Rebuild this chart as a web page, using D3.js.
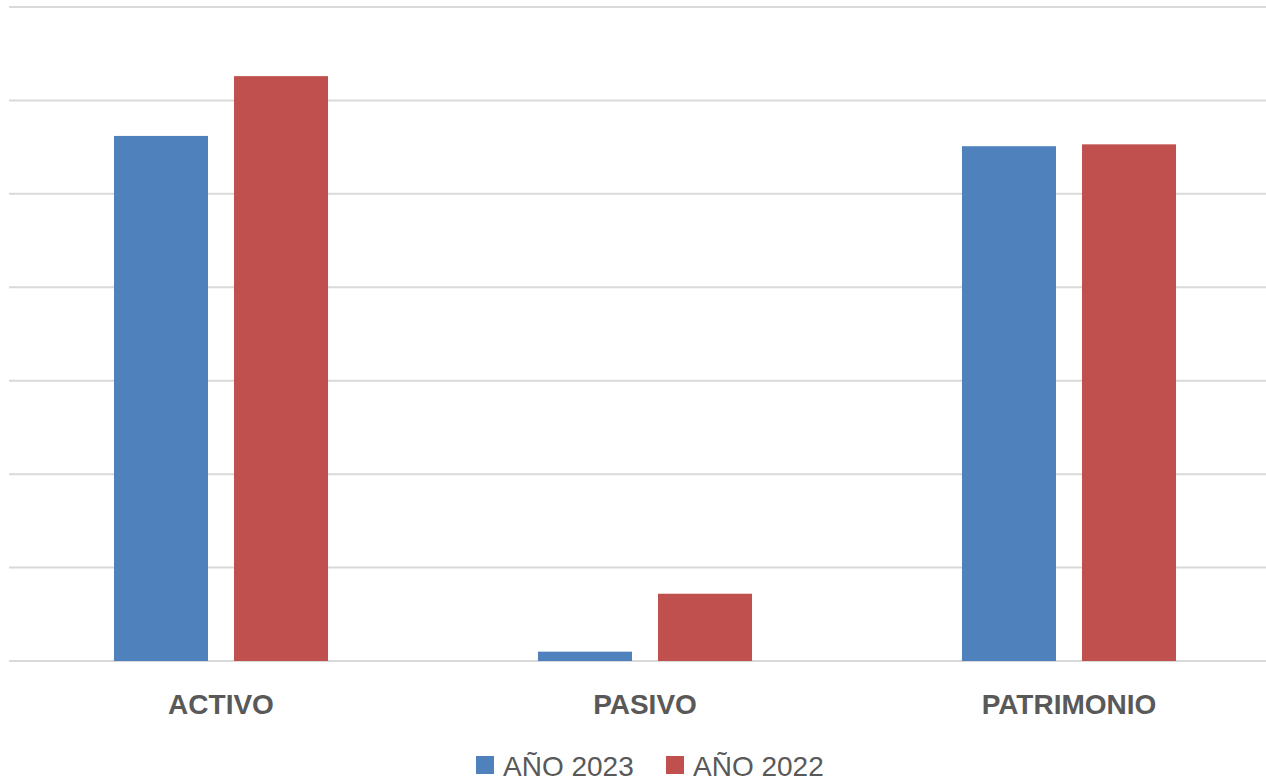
<!DOCTYPE html>
<html>
<head>
<meta charset="utf-8">
<script src="https://cdn.jsdelivr.net/npm/d3@7"></script>
<style>
  html, body { margin: 0; padding: 0; background: #fff; }
  svg { display: block; }
</style>
</head>
<body>
<div id="chart"></div>
<script>
// chart data
const categories = ['ACTIVO', 'PASIVO', 'PATRIMONIO'];
const seriesNames = ['AÑO 2023', 'AÑO 2022'];
const values2023 = [5.62, 0.10, 5.51];
const values2022 = [6.26, 0.72, 5.53];
const gridTicks = [0, 1, 2, 3, 4, 5, 6, 7];
const colors = ['#4F81BD', '#C0504D'];

const width = 1266, height = 781;
const margin = { top: 7, left: 9, bottom: 120 };
const plotRight = 1281; // plot area runs past the cropped right edge

const svg = d3.select('#chart').append('svg')
  .attr('width', width)
  .attr('height', height);

const y = d3.scaleLinear().domain([0, 7]).range([height - margin.bottom, margin.top]);
const x0 = d3.scaleBand().domain(categories).range([margin.left, plotRight]);
const bw = x0.bandwidth();
const x1 = d3.scaleBand().domain(seriesNames)
  .range([bw * 0.2476, bw * 0.7524])
  .paddingInner(0.2167);

// gridlines
svg.append('g')
  .selectAll('line')
  .data(gridTicks)
  .join('line')
  .attr('x1', margin.left)
  .attr('x2', width)
  .attr('y1', d => y(d))
  .attr('y2', d => y(d))
  .attr('stroke', '#D9D9D9')
  .attr('stroke-width', 2);

const rows = categories.map((c, i) => ({ cat: c, vals: [values2023[i], values2022[i]] }));

const groups = svg.append('g')
  .selectAll('g')
  .data(rows)
  .join('g')
  .attr('transform', d => `translate(${x0(d.cat)},0)`);

groups.selectAll('rect')
  .data(d => d.vals.map((v, j) => ({ name: seriesNames[j], v, j })))
  .join('rect')
  .attr('x', d => x1(d.name))
  .attr('width', x1.bandwidth())
  .attr('y', d => y(d.v))
  .attr('height', d => y(0) - y(d.v))
  .attr('fill', d => colors[d.j]);

// category labels
svg.append('g')
  .selectAll('text')
  .data(categories)
  .join('text')
  .attr('x', d => x0(d) + bw / 2)
  .attr('y', 714)
  .attr('text-anchor', 'middle')
  .attr('font-family', '"Liberation Sans", Arial, sans-serif')
  .attr('font-weight', 'bold')
  .attr('font-size', 28)
  .attr('fill', '#595959')
  .text(d => d);

// legend
const legendX = [476, 666];
const legend = svg.append('g')
  .selectAll('g')
  .data(seriesNames)
  .join('g')
  .attr('transform', (d, i) => `translate(${legendX[i]},756)`);

legend.append('rect')
  .attr('width', 18)
  .attr('height', 18)
  .attr('fill', (d, i) => colors[i]);

legend.append('text')
  .attr('x', 27)
  .attr('y', 20)
  .attr('font-family', '"Liberation Sans", Arial, sans-serif')
  .attr('font-size', 28)
  .attr('fill', '#595959')
  .text(d => d);
</script>
</body>
</html>
